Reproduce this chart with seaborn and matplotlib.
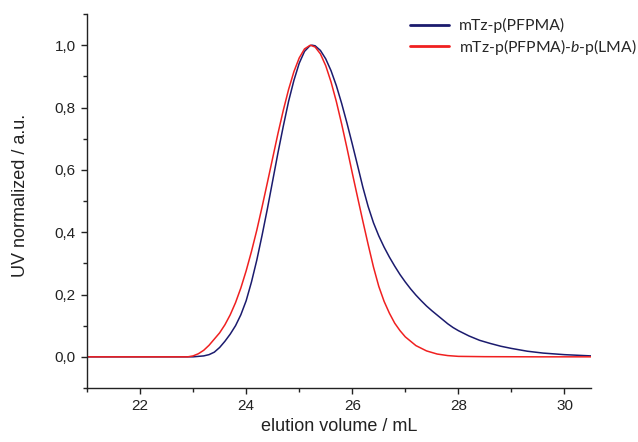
import matplotlib
matplotlib.use("Agg")
import matplotlib.pyplot as plt
from matplotlib.ticker import MultipleLocator, FuncFormatter
from matplotlib.lines import Line2D
import seaborn as sns
import pandas as pd

# ---- data ----
series_names = ["mTz-p(PFPMA)", "mTz-p(PFPMA)-$\\it{b}$-p(LMA)"]

blue_x = [21.0, 22.0, 22.8, 23.0, 23.2, 23.3, 23.4, 23.5, 23.6, 23.7, 23.8, 23.9,
          24.0, 24.1, 24.2, 24.3, 24.4, 24.5, 24.6, 24.7, 24.8, 24.9, 25.0, 25.1,
          25.2, 25.24, 25.3, 25.4, 25.5, 25.6, 25.7, 25.8, 25.9, 26.0, 26.1, 26.2,
          26.3, 26.4, 26.5, 26.6, 26.7, 26.8, 26.9, 27.0, 27.1, 27.2, 27.3, 27.4,
          27.5, 27.6, 27.7, 27.8, 27.9, 28.0, 28.2, 28.4, 28.6, 28.8, 29.0, 29.3,
          29.6, 30.0, 30.5]
blue_y = [0.0, 0.0, 0.0, 0.0, 0.003, 0.007, 0.015, 0.03, 0.05, 0.073, 0.10, 0.135,
          0.18, 0.24, 0.31, 0.39, 0.475, 0.565, 0.655, 0.74, 0.82, 0.887, 0.942, 0.98,
          0.998, 1.0, 0.998, 0.983, 0.956, 0.918, 0.87, 0.813, 0.75, 0.683, 0.614, 0.544,
          0.482, 0.43, 0.388, 0.352, 0.32, 0.291, 0.264, 0.24, 0.218, 0.198, 0.18, 0.163,
          0.148, 0.134, 0.12, 0.106, 0.094, 0.084, 0.067, 0.053, 0.043, 0.034, 0.027, 0.018,
          0.012, 0.007, 0.003]

red_x = [21.0, 22.0, 22.9, 23.0, 23.1, 23.2, 23.3, 23.4, 23.5, 23.6, 23.7, 23.8,
         23.9, 24.0, 24.1, 24.2, 24.3, 24.4, 24.5, 24.6, 24.7, 24.8, 24.9, 25.0,
         25.1, 25.21, 25.3, 25.4, 25.5, 25.6, 25.7, 25.8, 25.9, 26.0, 26.1, 26.2,
         26.3, 26.4, 26.5, 26.6, 26.7, 26.8, 26.9, 27.0, 27.2, 27.4, 27.6, 27.8,
         28.0, 28.5, 29.5, 30.5]
red_y = [0.0, 0.0, 0.0, 0.003, 0.01, 0.021, 0.037, 0.057, 0.077, 0.103, 0.135, 0.174,
         0.221, 0.276, 0.338, 0.406, 0.481, 0.559, 0.638, 0.717, 0.791, 0.858, 0.915, 0.959,
         0.988, 1.0, 0.994, 0.972, 0.934, 0.882, 0.819, 0.747, 0.67, 0.59, 0.512, 0.435,
         0.36, 0.288, 0.226, 0.178, 0.14, 0.108, 0.084, 0.064, 0.036, 0.019, 0.009, 0.004,
         0.0015, 0.0005, 0.0, 0.0]

x_label = "elution volume / mL"
y_label = "UV normalized / a.u."
colors = ["#1b1b6e", "#f02020"]

df = pd.concat([
    pd.DataFrame({"x": blue_x, "y": blue_y, "s": series_names[0]}),
    pd.DataFrame({"x": red_x, "y": red_y, "s": series_names[1]}),
])

sns.set_style("ticks")
plt.rcParams["font.family"] = ["Liberation Sans", "DejaVu Sans"]
plt.rcParams["mathtext.fontset"] = "custom"
plt.rcParams["mathtext.it"] = "Lato:italic"
plt.rcParams["mathtext.rm"] = "Lato"

fig = plt.figure(figsize=(6.38, 4.42), dpi=100)
ax = fig.add_axes([87 / 638, 1 - 388 / 442, (591 - 87) / 638, (388 - 14) / 442])

sns.lineplot(data=df, x="x", y="y", hue="s", palette=colors, ax=ax,
             linewidth=1.1, sort=False, estimator=None, legend=False)

ax.set_xlim(21, 30.5)
ax.set_ylim(-0.1, 1.1)
ax.xaxis.set_major_locator(MultipleLocator(2))
ax.xaxis.set_minor_locator(MultipleLocator(1))
ax.yaxis.set_major_locator(MultipleLocator(0.2))
ax.yaxis.set_minor_locator(MultipleLocator(0.1))
ax.yaxis.set_major_formatter(FuncFormatter(lambda v, p: f"{v:.1f}".replace(".", ",").replace("-0,0", "0,0")))
ax.xaxis.set_major_formatter(FuncFormatter(lambda v, p: f"{v:.0f}"))

for s in ["top", "right"]:
    ax.spines[s].set_visible(False)
for s in ["left", "bottom"]:
    ax.spines[s].set_linewidth(1.0)
    ax.spines[s].set_color("#222222")
ax.tick_params(which="major", length=4.5, width=1.0, color="#222222",
               labelsize=11, labelcolor="#222222", direction="out")
ax.tick_params(which="minor", length=3, width=1.0, color="#222222", direction="out")

ax.set_xlabel(x_label, fontsize=13, color="#222222")
ax.set_ylabel(y_label, fontsize=13, color="#222222")
ax.xaxis.set_label_coords(0.5, (388 - 418) / 374)
ax.yaxis.set_label_coords((29 - 87) / 504, (388 - 195) / 374)

handles = [Line2D([], [], color=c, linewidth=2.0) for c in colors]
fig.legend(handles, series_names, loc="upper left", bbox_to_anchor=(410 / 638, 1 - 18 / 442),
           frameon=False, handlelength=2.5, handletextpad=0.6,
           labelspacing=0.25, borderpad=0, borderaxespad=0,
           prop={"family": "Lato", "size": 11.3})

fig.savefig("out.png", dpi=100)
